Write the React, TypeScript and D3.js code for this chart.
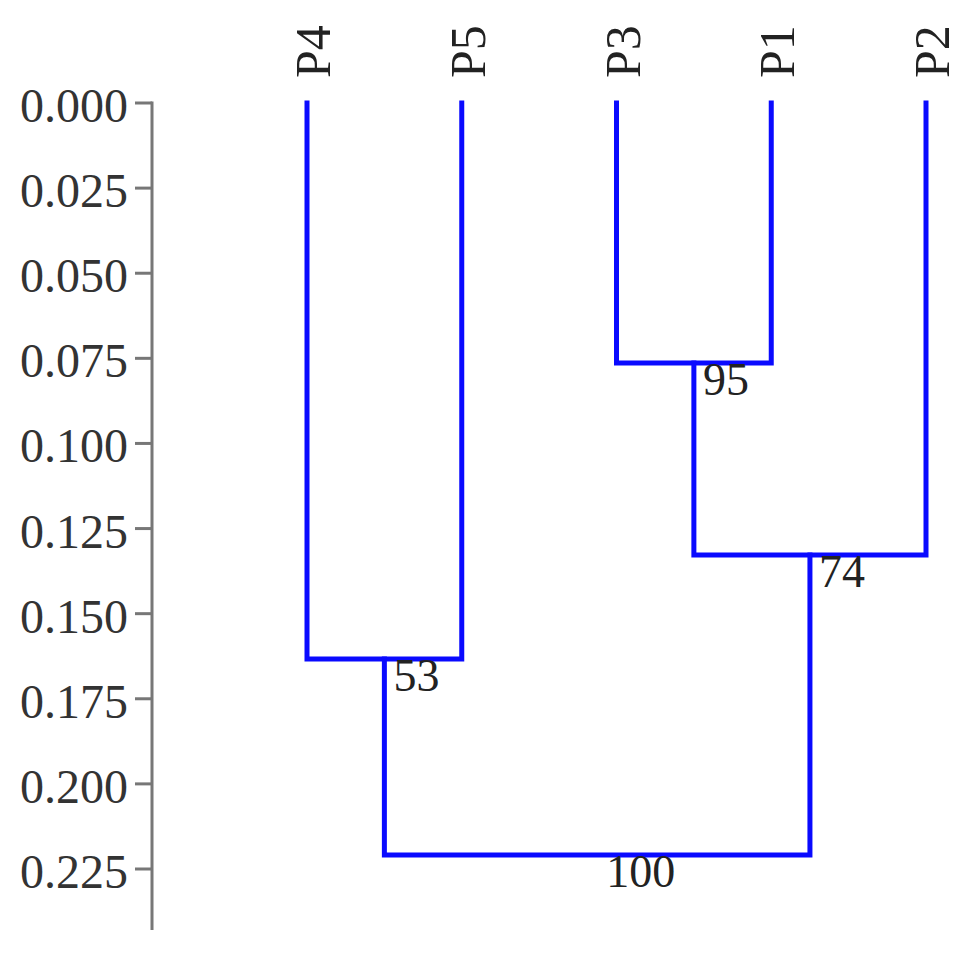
import React from "react";
import * as d3 from "d3";

const leaves = ["P4", "P5", "P3", "P1", "P2"];
const mergeIds = ["n1", "n2", "n3", "root"];
const mergeLeft = ["P3", "n1", "P4", "n3"];
const mergeRight = ["P1", "P2", "P5", "n2"];
const mergeHeights = [0.0764, 0.1328, 0.1633, 0.2209];
const supportValues = [95, 74, 53, 100];
const yTicks = [0, 0.025, 0.05, 0.075, 0.1, 0.125, 0.15, 0.175, 0.2, 0.225];

const W = 970;
const H = 953;
const FONT = "'Liberation Serif', 'Times New Roman', serif";
const BLUE = "#0a0aff";

export default function App() {
  const x = d3.scalePoint<string>().domain(leaves).range([307, 926]);
  const y = d3.scaleLinear().domain([0, 0.225]).range([103, 869]);

  const pos: Record<string, { x: number; h: number }> = {};
  leaves.forEach((l) => (pos[l] = { x: x(l) as number, h: 0 }));
  const branches: { d: string; lx: number; ly: number; s: number }[] = [];
  mergeIds.forEach((id, i) => {
    const a = pos[mergeLeft[i]];
    const b = pos[mergeRight[i]];
    const h = mergeHeights[i];
    const nx = (a.x + b.x) / 2;
    pos[id] = { x: nx, h };
    const path = d3.path();
    path.moveTo(a.x, y(a.h));
    path.lineTo(a.x, y(h));
    path.lineTo(b.x, y(h));
    path.lineTo(b.x, y(b.h));
    branches.push({ d: path.toString(), lx: nx + 9, ly: y(h) + 32, s: supportValues[i] });
  });

  const axisX = 152;
  const fmt = d3.format(".3f");

  return (
    <svg width={W} height={H} style={{ position: "absolute", left: 0, top: 0, background: "#fff" }}>
      <rect x={0} y={0} width={W} height={H} fill="#fff" />
      <g>
        <line x1={axisX} x2={axisX} y1={y(0) - 1.5} y2={930} stroke="#777" strokeWidth={3} />
        {yTicks.map((t) => (
          <g key={t}>
            <line x1={axisX - 17} x2={axisX} y1={y(t)} y2={y(t)} stroke="#777" strokeWidth={3} />
            <text
              x={128}
              y={y(t) + 19}
              textAnchor="end"
              fontFamily={FONT}
              fontSize={48}
              fill="#333"
            >
              {fmt(t)}
            </text>
          </g>
        ))}
      </g>
      <g>
        {branches.map((b, i) => (
          <path key={i} d={b.d} fill="none" stroke={BLUE} strokeWidth={5} strokeLinejoin="miter" strokeLinecap="square" />
        ))}
      </g>
      <g>
        {branches.map((b, i) => (
          <text key={i} x={b.lx} y={b.ly} fontFamily={FONT} fontSize={46} fill="#222">
            {b.s}
          </text>
        ))}
      </g>
      <g>
        {leaves.map((l) => (
          <text
            key={l}
            transform={`translate(${(x(l) as number) + 23},78) rotate(-90)`}
            textAnchor="start"
            fontFamily={FONT}
            fontSize={50}
            fill="#222"
          >
            {l}
          </text>
        ))}
      </g>
    </svg>
  );
}
